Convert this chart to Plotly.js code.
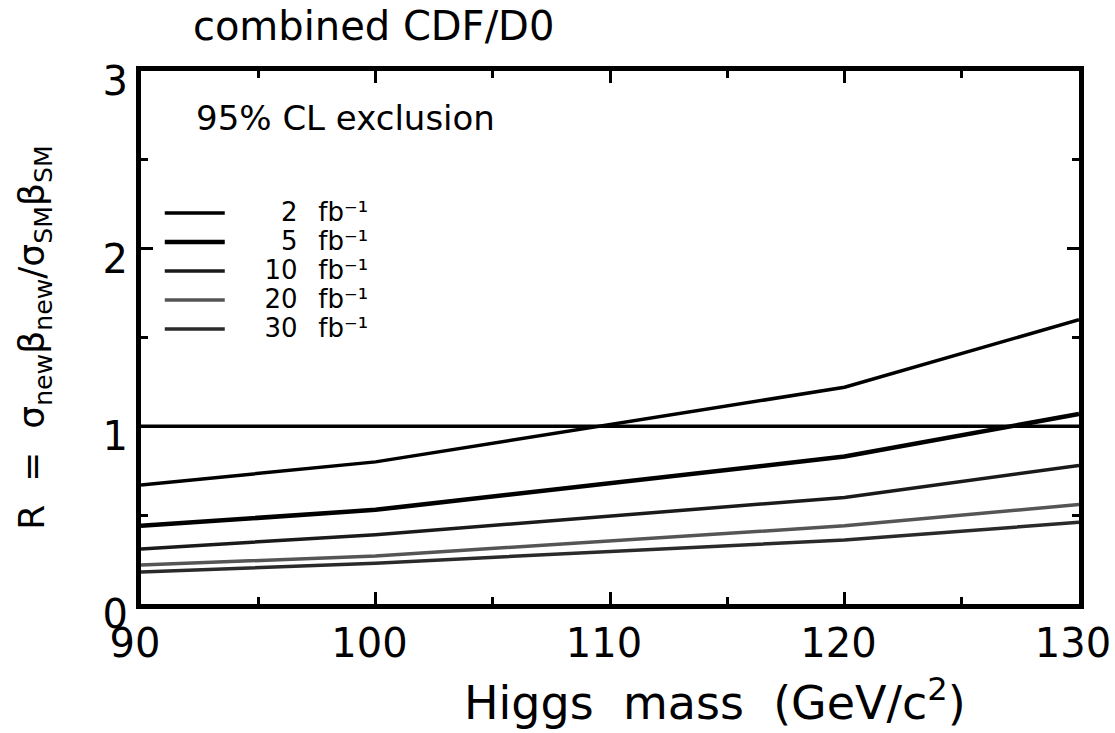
<!DOCTYPE html>
<html>
<head>
<meta charset="utf-8">
<script src="https://cdn.plot.ly/plotly-3.0.1.min.js"></script>
<style>html,body{margin:0;padding:0;background:#fff;}#chart{width:1115px;height:733px;}</style>
</head>
<body>
<div id="chart"></div>
<script>
// Higgs mass points (GeV/c^2)
const mass = [90, 100, 120, 130];
// R = sigma_new*beta_new / sigma_SM*beta_SM, 95% CL exclusion
const r2fb  = [0.67, 0.80, 1.22, 1.60];
const r5fb  = [0.44, 0.53, 0.83, 1.07];
const r10fb = [0.31, 0.39, 0.60, 0.78];
const r20fb = [0.22, 0.27, 0.44, 0.56];
const r30fb = [0.18, 0.23, 0.36, 0.46];
// reference line R = 1
const refMass = [90, 130];
const refR = [1, 1];
// luminosities (fb^-1) for legend labels
const lumis = ["2", "5", "10", "20", "30"];
const xTickVals = [90, 100, 110, 120, 130];
const xTickText = ["90", "100", "110", "120", "130"];

const seriesData = [r2fb, r5fb, r10fb, r20fb, r30fb];
const styles = [
  {color: "#000000", width: 3.5},
  {color: "#000000", width: 4.5},
  {color: "#1a1a1a", width: 3.5},
  {color: "#555555", width: 3.5},
  {color: "#2a2a2a", width: 3.5}
];

const FONT = "DejaVu Sans, sans-serif";
function legendLabel(n) {
  const lead = n.length === 1 ? "\u2002\u2007\u2009\u2007" : "\u2002\u2007\u2009";
  return '<span style="font-size:26px">' + lead + n + "\u2002\u2009\u200Afb\u207B\u00B9</span>";
}
const traces = seriesData.map((ys, i) => ({
  x: mass, y: ys, type: "scatter", mode: "lines",
  name: legendLabel(lumis[i]), line: {color: styles[i].color, width: styles[i].width},
  hoverinfo: "x+y"
}));
traces.push({x: refMass, y: refR, type: "scatter", mode: "lines", showlegend: false,
  line: {color: "#000", width: 3.5}, hoverinfo: "skip"});

const layout = {
  width: 1115, height: 733,
  paper_bgcolor: "#fff", plot_bgcolor: "#fff",
  margin: {l: 141, r: 36, t: 71, b: 129, pad: 0},
  font: {family: FONT, color: "#000"},
  title: {text: "combined CDF/D0", font: {family: FONT, size: 40, color: "#000"},
    x: 0.173, xanchor: "left", xref: "container", y: 0.964, yanchor: "middle", yref: "container"},
  showlegend: true,
  legend: {x: 0.02, xanchor: "left", y: 0.77, yanchor: "top", bgcolor: "rgba(0,0,0,0)",
    font: {family: FONT, size: 20, color: "#000"}, itemwidth: 60, tracegroupgap: 0},
  xaxis: {
    range: [90, 130], tickvals: xTickVals, ticktext: xTickText,
    showline: true, linecolor: "#000", linewidth: 5, mirror: "ticks",
    ticks: "inside", ticklen: 12, tickwidth: 3, tickcolor: "#000",
    minor: {dtick: 5, tick0: 90, ticks: "inside", ticklen: 7, tickwidth: 3, tickcolor: "#000"},
    showgrid: false, zeroline: false, ticklabeloverflow: "allow", ticklabelshift: -6,
    tickfont: {family: FONT, size: 40, color: "#000"},
    title: {text: ""}
  },
  yaxis: {
    range: [0, 3], dtick: 1, tick0: 0,
    showline: true, linecolor: "#000", linewidth: 5, mirror: "ticks",
    ticks: "inside", ticklen: 12, tickwidth: 3, tickcolor: "#000",
    minor: {dtick: 0.5, ticks: "inside", ticklen: 7, tickwidth: 3, tickcolor: "#000"},
    showgrid: false, zeroline: false, ticklabelshift: 10,
    tickfont: {family: FONT, size: 40, color: "#000"},
    title: {text: "R\u00A0\u00A0=\u00A0\u00A0σ<sub>new</sub>β<sub>new</sub>/σ<sub>SM</sub>β<sub>SM</sub>", font: {family: FONT, size: 36, color: "#000"}, standoff: 48}
  },
  annotations: [{
    text: "95% CL exclusion", xref: "paper", yref: "paper", x: 0.057, y: 0.912,
    xanchor: "left", yanchor: "middle", showarrow: false,
    font: {family: FONT, size: 34, color: "#000"}
  }, {
    text: "Higgs\u00A0\u00A0mass\u00A0\u00A0(GeV/c<sup>2</sup>)", xref: "paper", yref: "paper",
    x: 0.612, y: -0.18, xanchor: "center", yanchor: "middle", showarrow: false,
    font: {family: FONT, size: 46, color: "#000"}
  }]
};
Plotly.newPlot("chart", traces, layout, {displayModeBar: false, staticPlot: true});
</script>
</body>
</html>
